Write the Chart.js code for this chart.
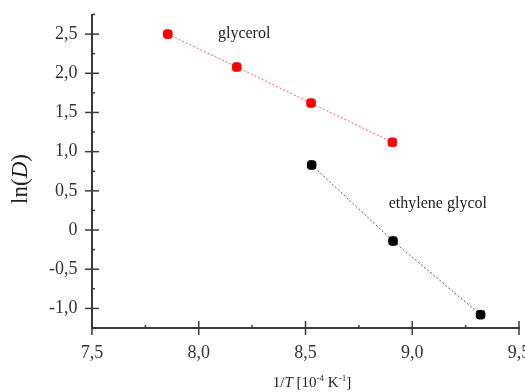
<!DOCTYPE html>
<html>
<head>
<meta charset="utf-8">
<script src="https://cdn.jsdelivr.net/npm/chart.js@4.4.1/dist/chart.umd.min.js"></script>
<style>
html,body{margin:0;padding:0;background:#fff;}
#wrap{width:525px;height:392px;}
</style>
</head>
<body>
<div id="wrap"><canvas id="c" width="525" height="392"></canvas></div>
<script>
// values
const glycerolX = [7.855, 8.178, 8.526, 8.907];
const glycerolY = [2.50, 2.08, 1.62, 1.12];
const ethyleneX = [8.529, 8.910, 9.320];
const ethyleneY = [0.83, -0.14, -1.08];
const xTicks = [7.5, 8.0, 8.5, 9.0, 9.5];
const yTicks = [-1.0, -0.5, 0, 0.5, 1.0, 1.5, 2.0, 2.5];
const seriesNames = ['glycerol', 'ethylene glycol'];
const nameAt = [[8.09, 2.5], [8.89, 0.34]];

const serif = '"Liberation Serif", "DejaVu Serif", serif';
const isMajor = (v, list) => list.some(t => Math.abs(t - v) < 1e-6);
const fmt = v => Math.abs(v) < 1e-6 ? '0' : v.toFixed(1).replace('.', ',');

const pts = (xs, ys) => xs.map((x, i) => ({x: x, y: ys[i]}));

// crossing major ticks, small inner minor ticks, series names, axis titles
const axisDecor = {
  id: 'axisDecor',
  afterDraw(chart) {
    const {ctx, chartArea: a, scales: {x, y}} = chart;
    ctx.save();
    ctx.strokeStyle = '#3a3a3a';
    ctx.lineWidth = 1.5;
    x.ticks.forEach(t => {
      const px = x.getPixelForValue(t.value);
      const major = isMajor(t.value, xTicks);
      ctx.beginPath();
      ctx.moveTo(px, a.bottom + (major ? 7 : 0));
      ctx.lineTo(px, a.bottom - (major ? 7 : 3));
      ctx.stroke();
    });
    y.ticks.forEach(t => {
      const py = y.getPixelForValue(t.value);
      const major = isMajor(t.value, yTicks);
      ctx.beginPath();
      ctx.moveTo(a.left - (major ? 7 : 0), py);
      ctx.lineTo(a.left + (major ? 7 : 3), py);
      ctx.stroke();
    });

    ctx.fillStyle = '#222';
    ctx.font = '16px ' + serif;
    ctx.textBaseline = 'middle';
    ctx.textAlign = 'left';
    seriesNames.forEach((n, i) => {
      ctx.fillText(n, x.getPixelForValue(nameAt[i][0]), y.getPixelForValue(nameAt[i][1]));
    });

    // x title: 1/T [10^-4 K^-1]
    const parts = [
      ['1/', '15px ' + serif, 0],
      ['T', 'italic 15px ' + serif, 0],
      [' [10', '15px ' + serif, 0],
      ['-4', '9px ' + serif, -6],
      [' K', '15px ' + serif, 0],
      ['-1', '9px ' + serif, -6],
      [']', '15px ' + serif, 0]
    ];
    let w = 0;
    parts.forEach(p => { ctx.font = p[1]; w += ctx.measureText(p[0]).width; });
    let cx = 312 - w / 2;
    ctx.textBaseline = 'alphabetic';
    parts.forEach(p => {
      ctx.font = p[1];
      ctx.fillText(p[0], cx, 387 + p[2]);
      cx += ctx.measureText(p[0]).width;
    });

    // y title: ln(D)
    ctx.translate(27, 179);
    ctx.rotate(-Math.PI / 2);
    const yp = [['ln(', '23px ' + serif], ['D', 'italic 23px ' + serif], [')', '23px ' + serif]];
    w = 0;
    yp.forEach(p => { ctx.font = p[1]; w += ctx.measureText(p[0]).width; });
    cx = -w / 2;
    yp.forEach(p => {
      ctx.font = p[1];
      ctx.fillText(p[0], cx, 0);
      cx += ctx.measureText(p[0]).width;
    });
    ctx.restore();
  }
};

new Chart(document.getElementById('c'), {
  type: 'scatter',
  data: {
    datasets: [
      {
        label: seriesNames[0],
        data: pts(glycerolX, glycerolY),
        showLine: true,
        borderColor: '#ff5a5a',
        borderWidth: 1,
        borderDash: [2, 2],
        backgroundColor: '#ff0000',
        pointBackgroundColor: '#ff0000',
        pointBorderColor: '#ff0000',
        pointStyle: 'rectRounded',
        pointRadius: 5
      },
      {
        label: seriesNames[1],
        data: pts(ethyleneX, ethyleneY),
        showLine: true,
        borderColor: '#555',
        borderWidth: 1,
        borderDash: [2, 2],
        backgroundColor: '#000',
        pointBackgroundColor: '#000',
        pointBorderColor: '#000',
        pointStyle: 'rectRounded',
        pointRadius: 5
      }
    ]
  },
  options: {
    responsive: false,
    animation: false,
    layout: {padding: {left: 0, right: 5.5, top: 14.5, bottom: 0}},
    plugins: {legend: {display: false}, tooltip: {enabled: false}},
    scales: {
      x: {
        type: 'linear',
        min: 7.5,
        max: 9.5,
        grid: {display: true, drawOnChartArea: false, drawTicks: true, tickLength: 7, tickColor: 'transparent'},
        border: {display: true, color: '#3a3a3a', width: 2},
        ticks: {
          stepSize: 0.25,
          autoSkip: false,
          maxRotation: 0,
          padding: 7,
          color: '#333',
          font: {family: serif, size: 18},
          callback: v => isMajor(v, xTicks) ? fmt(v) : ''
        },
        afterFit: s => { s.height = 64; s.paddingLeft = 0; s.paddingRight = 0; }
      },
      y: {
        type: 'linear',
        min: -1.25,
        max: 2.75,
        grid: {display: true, drawOnChartArea: false, drawTicks: true, tickLength: 7, tickColor: 'transparent'},
        border: {display: true, color: '#3a3a3a', width: 2},
        ticks: {
          stepSize: 0.25,
          autoSkip: false,
          padding: 7.5,
          color: '#333',
          font: {family: serif, size: 18},
          callback: v => isMajor(v, yTicks) ? fmt(v) : ''
        },
        afterFit: s => { s.width = 92; s.paddingTop = 0; s.paddingBottom = 0; }
      }
    }
  },
  plugins: [axisDecor]
});
</script>
</body>
</html>
